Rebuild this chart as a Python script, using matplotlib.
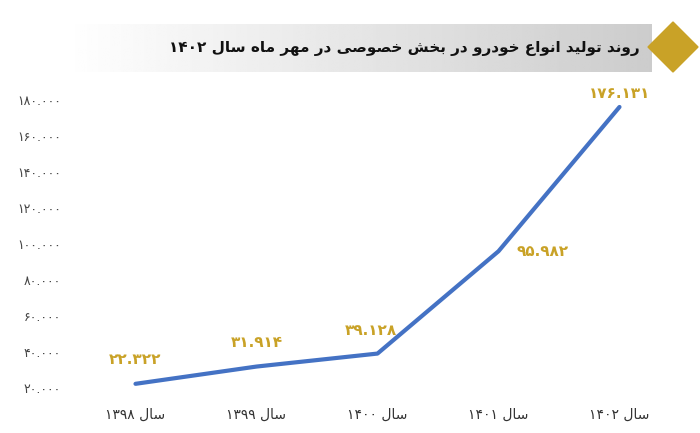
import matplotlib.pyplot as plt
import numpy as np
from matplotlib.patches import Polygon

# ─── Data ─────────────────────────────────────────────
years = ["۱۳۹۸", "۱۳۹۹", "۱۴۰۰", "۱۴۰۱", "۱۴۰۲"]
production = [22322, 31914, 39128, 95982, 176131]
title_text = "روند تولید انواع خودرو در بخش خصوصی در مهر ماه سال ۱۴۰۲"
yticks = [20000, 40000, 60000, 80000, 100000, 120000, 140000, 160000, 180000]

# ─── Minimal Persian shaping (no arabic_reshaper available) ─────────
FORMS = {  # isolated, final, initial, medial
    'ا': (0xFE8D, 0xFE8E, None, None), 'د': (0xFEA9, 0xFEAA, None, None),
    'ر': (0xFEAD, 0xFEAE, None, None), 'و': (0xFEED, 0xFEEE, None, None),
    'ب': (0xFE8F, 0xFE90, 0xFE91, 0xFE92), 'ت': (0xFE95, 0xFE96, 0xFE97, 0xFE98),
    'خ': (0xFEA5, 0xFEA6, 0xFEA7, 0xFEA8), 'س': (0xFEB1, 0xFEB2, 0xFEB3, 0xFEB4),
    'ش': (0xFEB5, 0xFEB6, 0xFEB7, 0xFEB8), 'ص': (0xFEB9, 0xFEBA, 0xFEBB, 0xFEBC),
    'ع': (0xFEC9, 0xFECA, 0xFECB, 0xFECC), 'ل': (0xFEDD, 0xFEDE, 0xFEDF, 0xFEE0),
    'م': (0xFEE1, 0xFEE2, 0xFEE3, 0xFEE4), 'ن': (0xFEE5, 0xFEE6, 0xFEE7, 0xFEE8),
    'ه': (0xFEE9, 0xFEEA, 0xFEEB, 0xFEEC), 'ی': (0xFBFC, 0xFBFD, 0xFBFE, 0xFBFF),
}


def shape_word(w):
    # lam-alef ligature
    chars = []
    i = 0
    while i < len(w):
        if w[i] == 'ل' and i + 1 < len(w) and w[i + 1] == 'ا':
            chars.append('LA')
            i += 2
        else:
            chars.append(w[i])
            i += 1

    def joins_next(c):
        return c in FORMS and FORMS[c][2] is not None

    out = []
    for k, c in enumerate(chars):
        prev_j = k > 0 and joins_next(chars[k - 1])
        nxt = k + 1 < len(chars) and (chars[k + 1] in FORMS or chars[k + 1] == 'LA')
        if c == 'LA':
            out.append(chr(0xFEFC if prev_j else 0xFEFB))
            continue
        if c not in FORMS:
            out.append(c)
            continue
        iso, fin, ini, med = FORMS[c]
        can_next = ini is not None and nxt
        if prev_j and can_next:
            cp = med
        elif prev_j:
            cp = fin
        elif can_next:
            cp = ini
        else:
            cp = iso
        out.append(chr(cp))
    return ''.join(reversed(out))


def fa(text):
    toks = []
    for t in text.split(' '):
        if all(ch in '۰۱۲۳۴۵۶۷۸۹.' for ch in t):
            toks.append(t)
        else:
            toks.append(shape_word(t))
    return ' '.join(reversed(toks))


def fa_num(v):
    s = f"{v:,}".replace(',', '.')
    return s.translate(str.maketrans('0123456789', '۰۱۲۳۴۵۶۷۸۹'))


plt.rcParams['font.family'] = ['DejaVu Sans']

fig = plt.figure(figsize=(7, 4.33), dpi=100)

# ─── Title banner ─────────────────────────────────────
bax = fig.add_axes([0, 0, 1, 1])
bax.axis('off')
grad = np.linspace(1.0, 0.80, 256).reshape(1, -1)
bax.imshow(grad, cmap='gray', vmin=0, vmax=1, extent=[65, 652, 72, 24], aspect='auto')
bax.add_patch(Polygon([[673, 22], [698, 47], [673, 72], [648, 47]], closed=True, color='#C9A227'))
bax.text(640, 48, fa(title_text), ha='right', va='center', fontsize=11, fontweight='bold', color='#111111')
bax.set_xlim(0, 700)
bax.set_ylim(433, 0)

# ─── Line chart ───────────────────────────────────────
ax = fig.add_axes([75 / 700, 1 - 388 / 433, 605 / 700, 288 / 433])
x = np.arange(len(years))
ax.plot(x, production, color='#4472C4', linewidth=3, solid_capstyle='round')
ax.set_xlim(-0.5, 4.5)
ax.set_ylim(20000, 180000)
ax.set_yticks(yticks)
ax.set_yticklabels([fa_num(v) for v in yticks], fontsize=9, color='#444444')
ax.set_xticks(x)
ax.set_xticklabels([fa("سال " + y) for y in years], fontsize=10, color='#333333')
ax.tick_params(length=0, pad=10)
ax.tick_params(axis='x', pad=14)
for s in ax.spines.values():
    s.set_visible(False)
ax.patch.set_alpha(0)

offsets = [(0, 12), (0, 12), (-5, 11), (32, 0), (0, 4)]
for xi, v, (dx, dy) in zip(x, production, offsets):
    ax.annotate(fa_num(v), (xi, v), xytext=(dx, dy), textcoords='offset points',
                ha='center', va='bottom' if dy else 'center', fontsize=11,
                fontweight='bold', color='#C9A227')

fig.savefig("out.png", dpi=100)
